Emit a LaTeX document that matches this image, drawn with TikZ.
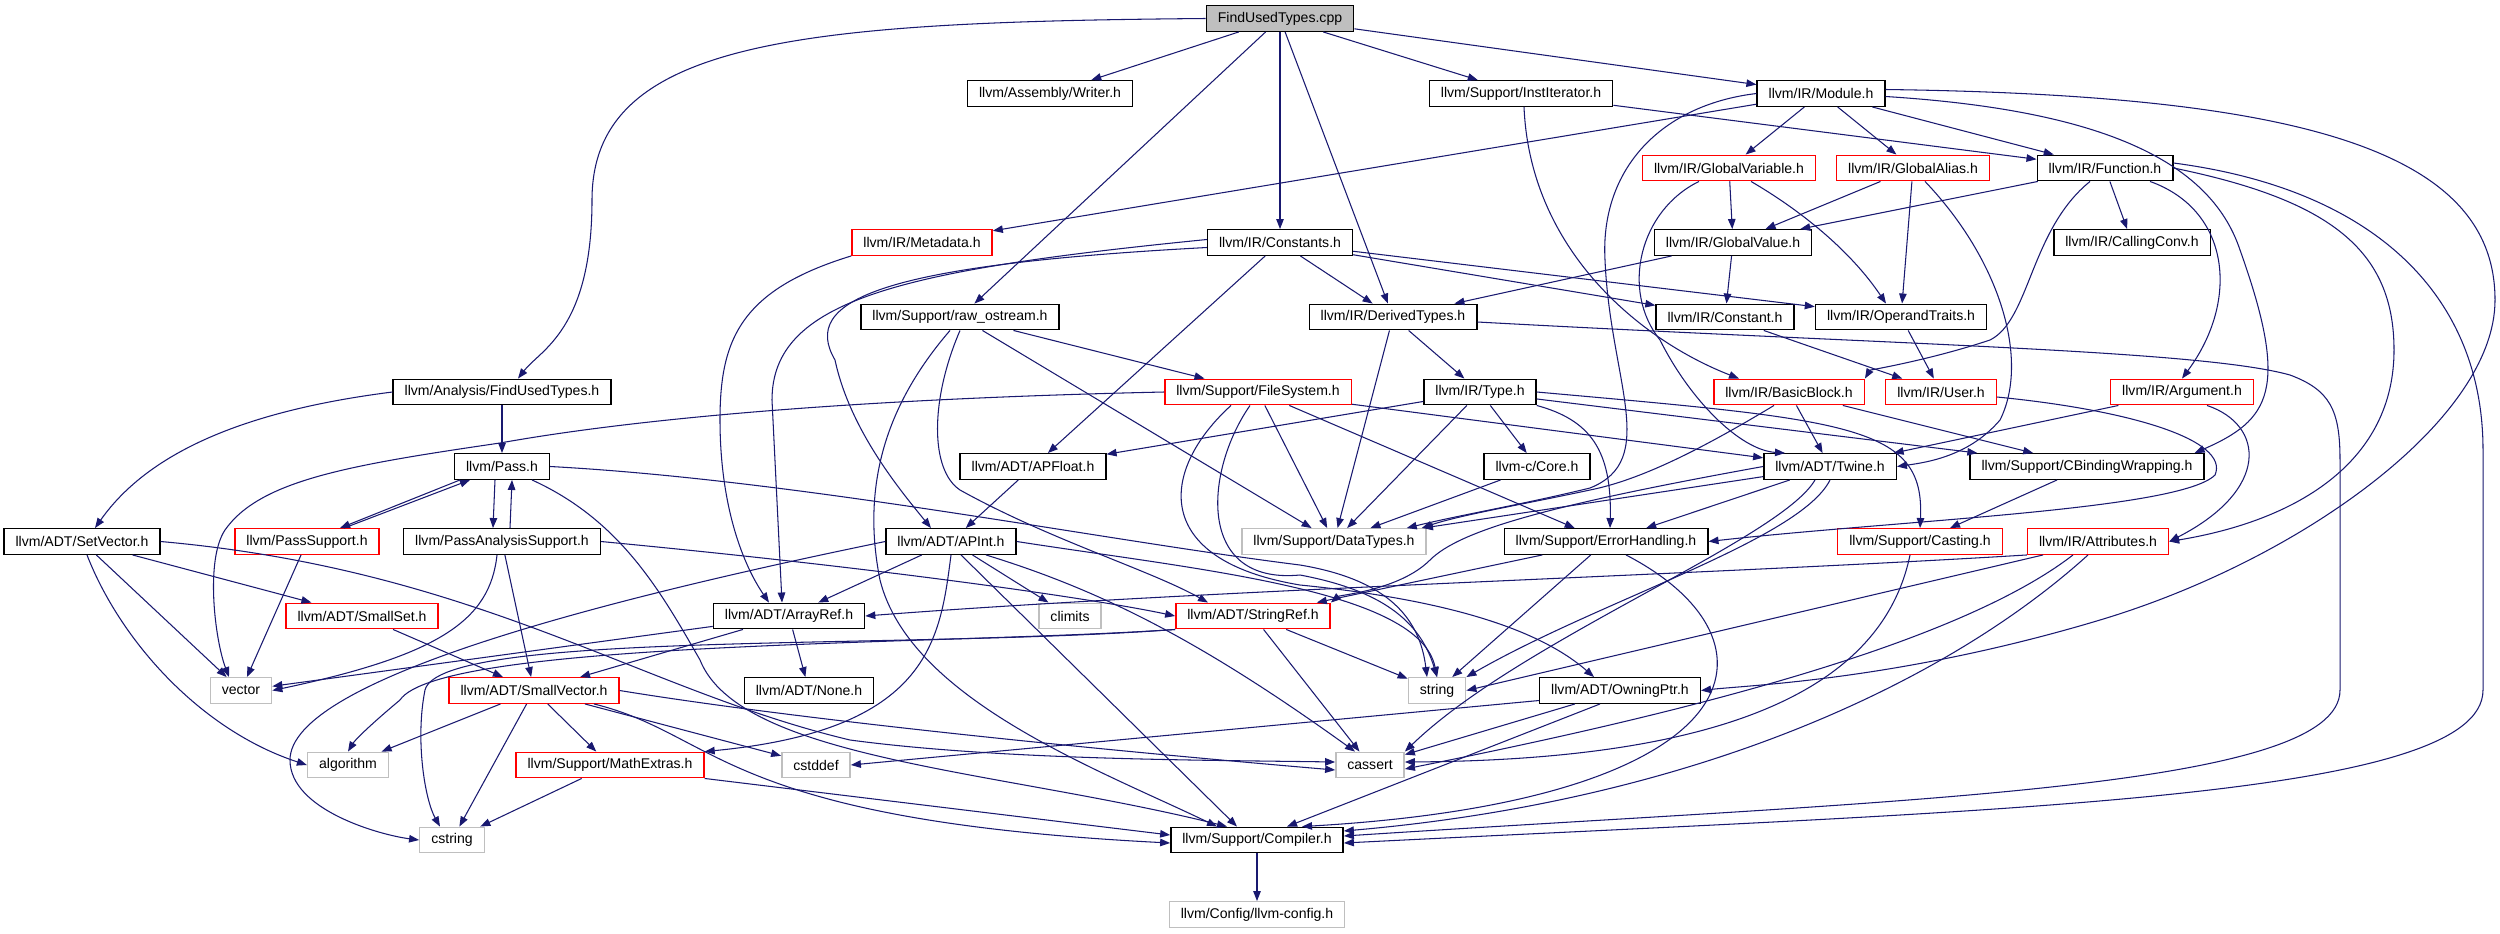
\documentclass[tikz,border=0pt]{standalone}
\usepackage{fontspec}
\setmainfont{Liberation Sans}
\usetikzlibrary{arrows.meta}
\definecolor{edgeblue}{HTML}{191970}
\definecolor{greyfill}{HTML}{BFBFBF}
\tikzset{
	hdr/.style={draw=black, fill=white, line width=0.4pt, inner xsep=0.115cm, inner ysep=0pt, minimum height=0.255cm, font=\fontsize{4}{5}\selectfont},
	redhdr/.style={hdr, draw=red},
	syshdr/.style={hdr, draw=greyfill},
	rootfile/.style={hdr, fill=greyfill},
	dep/.style={draw=edgeblue, line width=0.3pt, -{Triangle[length=0.1cm,width=0.075cm]}}
}
\begin{document}
\begin{tikzpicture}[x=0.01cm, y=-0.01cm]
	\path[fill=white] (0,0) rectangle (2500,933);
	\useasboundingbox (0,0) rectangle (2500,933);

	\node[rootfile] (root) at (1280,18.5) {FindUsedTypes.cpp};
	\node[hdr] (writer) at (1050,93.5) {llvm/Assembly/Writer.h};
	\node[hdr] (instit) at (1521,93.5) {llvm/Support/InstIterator.h};
	\node[hdr] (module) at (1821,93.5) {llvm/IR/Module.h};
	\node[redhdr] (gvar) at (1729,168) {llvm/IR/GlobalVariable.h};
	\node[redhdr] (galias) at (1913,168) {llvm/IR/GlobalAlias.h};
	\node[hdr] (func) at (2105,168) {llvm/IR/Function.h};
	\node[redhdr] (meta) at (922,242.5) {llvm/IR/Metadata.h};
	\node[hdr] (consts) at (1280,242.5) {llvm/IR/Constants.h};
	\node[hdr] (gval) at (1733,242.5) {llvm/IR/GlobalValue.h};
	\node[hdr] (callconv) at (2132,242.5) {llvm/IR/CallingConv.h};
	\node[hdr] (rawos) at (960,317) {llvm/Support/raw\_ostream.h};
	\node[hdr] (dtypes) at (1393,317) {llvm/IR/DerivedTypes.h};
	\node[hdr] (constant) at (1725,317) {llvm/IR/Constant.h};
	\node[hdr] (optraits) at (1901,317) {llvm/IR/OperandTraits.h};
	\node[hdr] (futh) at (502,392) {llvm/Analysis/FindUsedTypes.h};
	\node[redhdr] (fsys) at (1258,392) {llvm/Support/FileSystem.h};
	\node[hdr] (type) at (1480,392) {llvm/IR/Type.h};
	\node[redhdr] (bblock) at (1789,392) {llvm/IR/BasicBlock.h};
	\node[redhdr] (user) at (1941,392) {llvm/IR/User.h};
	\node[redhdr] (arg) at (2182,392) {llvm/IR/Argument.h};
	\node[hdr] (pass) at (502,466.5) {llvm/Pass.h};
	\node[hdr] (apfloat) at (1033,466.5) {llvm/ADT/APFloat.h};
	\node[hdr] (core) at (1537,466.5) {llvm-c/Core.h};
	\node[hdr] (twine) at (1830,466.5) {llvm/ADT/Twine.h};
	\node[hdr] (cbind) at (2087,466.5) {llvm/Support/CBindingWrapping.h};
	\node[hdr] (setvec) at (82,541.5) {llvm/ADT/SetVector.h};
	\node[redhdr] (passsup) at (307,541.5) {llvm/PassSupport.h};
	\node[hdr] (pas) at (502,541.5) {llvm/PassAnalysisSupport.h};
	\node[hdr] (apint) at (951,541.5) {llvm/ADT/APInt.h};
	\node[syshdr] (dtypesh) at (1334,541.5) {llvm/Support/DataTypes.h};
	\node[hdr] (errh) at (1606,541.5) {llvm/Support/ErrorHandling.h};
	\node[redhdr] (casting) at (1920,541.5) {llvm/Support/Casting.h};
	\node[redhdr] (attrs) at (2098,541.5) {llvm/IR/Attributes.h};
	\node[redhdr] (smallset) at (362,616) {llvm/ADT/SmallSet.h};
	\node[hdr] (aref) at (789,616) {llvm/ADT/ArrayRef.h};
	\node[syshdr] (climits) at (1070,616) {climits};
	\node[redhdr] (sref) at (1253,616) {llvm/ADT/StringRef.h};
	\node[syshdr] (vector) at (241,690.5) {vector};
	\node[redhdr] (svec) at (534,690.5) {llvm/ADT/SmallVector.h};
	\node[hdr] (none) at (809,690.5) {llvm/ADT/None.h};
	\node[syshdr] (string) at (1437,690.5) {string};
	\node[hdr] (owning) at (1620,690.5) {llvm/ADT/OwningPtr.h};
	\node[syshdr] (algo) at (348,765) {algorithm};
	\node[redhdr] (mathx) at (610,765) {llvm/Support/MathExtras.h};
	\node[syshdr] (cstddef) at (816,765) {cstddef};
	\node[syshdr] (cassert) at (1370,765) {cassert};
	\node[syshdr] (cstring) at (452,840) {cstring};
	\node[hdr] (compiler) at (1257,840) {llvm/Support/Compiler.h};
	\node[syshdr] (config) at (1257,914.5) {llvm/Config/llvm-config.h};

	\draw[dep] (root.west) .. controls (800,22) and (592,40) .. (592,200) .. controls (592,330) and (540,350) .. ([xshift=0.16cm]futh.north);
	\draw[dep] (root) -- (writer);
	\draw[dep] (root) -- (rawos);
	\draw[dep] (root) -- (consts);
	\draw[dep] (root) -- (dtypes);
	\draw[dep] (root) -- (instit);
	\draw[dep] (root) -- (module);

	\draw[dep] (futh.west) .. controls (250,410) and (150,450) .. ([xshift=0.13cm]setvec.north);
	\draw[dep] (futh) -- (pass);

	\draw[dep] ([xshift=0.03cm]instit.south) .. controls (1530,250) and (1640,340) .. ([xshift=-0.5cm]bblock.north);
	\draw[dep] (instit) -- (func);

	\draw[dep] (module) -- (meta);
	\draw[dep] (module.west) .. controls (1660,105) and (1600,170) .. (1605,260) .. controls (1610,380) and (1660,460) .. (1590,488) .. controls (1520,505) and (1460,515) .. ([xshift=-0.2cm]dtypesh.north east);
	\draw[dep] (module) -- (gvar);
	\draw[dep] (module) -- (galias);
	\draw[dep] (module) -- (func);
	\draw[dep] ([yshift=-0.03cm]module.east) .. controls (2100,110) and (2210,160) .. (2240,250) .. controls (2290,390) and (2270,420) .. ([xshift=-0.1cm]cbind.north east);
	\draw[dep] ([yshift=0.04cm]module.east) .. controls (2300,95) and (2495,150) .. (2495,300) .. controls (2495,420) and (2300,560) .. (2100,620) .. controls (1900,680) and (1750,685) .. (owning.east);

	\draw[dep] ([xshift=-0.3cm]gvar.south) .. controls (1640,210) and (1620,290) .. (1660,340) .. controls (1690,400) and (1740,450) .. ([xshift=-0.45cm]twine.north);
	\draw[dep] (gvar) -- (gval);
	\draw[dep] ([xshift=0.22cm]gvar.south) .. controls (1800,210) and (1850,250) .. ([xshift=-0.15cm]optraits.north);

	\draw[dep] (galias) -- (gval);
	\draw[dep] (galias) -- (optraits);
	\draw[dep] ([xshift=0.12cm]galias.south) .. controls (2000,260) and (2030,360) .. (2000,420) .. controls (1970,455) and (1930,462) .. (twine.east);

	\draw[dep] (func) -- (gval);
	\draw[dep] ([xshift=-0.15cm]func.south) .. controls (2030,230) and (2030,320) .. (1990,340) .. controls (1930,360) and (1870,370) .. (bblock.north east);
	\draw[dep] (func) -- (callconv);
	\draw[dep] ([xshift=0.45cm]func.south) .. controls (2230,210) and (2240,300) .. (arg.north);
	\draw[dep] (func.east) .. controls (2330,200) and (2394,250) .. (2394,350) .. controls (2394,460) and (2300,520) .. (attrs.east);
	\draw[dep] ([yshift=0.05cm]func.east) .. controls (2380,190) and (2483,300) .. (2483,450) -- (2483,690) .. controls (2483,800) and (2000,810) .. ([yshift=-0.03cm]compiler.east);

	\draw[dep] (meta.south west) .. controls (740,290) and (720,340) .. (720,420) .. controls (720,500) and (740,560) .. ([xshift=-0.2cm]aref.north);

	\draw[dep] ([yshift=0.03cm]consts.west) .. controls (900,270) and (772,300) .. (772,400) -- ([xshift=-0.07cm]aref.north);
	\draw[dep] ([yshift=-0.05cm]consts.west) .. controls (880,265) and (800,300) .. (835,360) .. controls (850,430) and (900,490) .. ([xshift=-0.2cm]apint.north);
	\draw[dep] (consts) -- (apfloat);
	\draw[dep] (consts) -- (dtypes);
	\draw[dep] (consts) -- (constant);
	\draw[dep] (consts) -- (optraits);

	\draw[dep] (gval) -- (dtypes);
	\draw[dep] (gval) -- (constant);

	\draw[dep] ([xshift=-0.1cm]rawos.south) .. controls (890,400) and (860,480) .. (880,580) .. controls (910,700) and (1100,770) .. ([xshift=-0.4cm]compiler.north);
	\draw[dep] (rawos.south) .. controls (930,400) and (930,470) .. (960,490) .. controls (1050,540) and (1150,570) .. ([xshift=-0.45cm]sref.north);
	\draw[dep] (rawos) -- (dtypesh);
	\draw[dep] (rawos) -- (fsys);

	\draw[dep] (dtypes) -- (type);
	\draw[dep] (dtypes) -- (dtypesh);
	\draw[dep] ([yshift=-0.05cm]dtypes.east) .. controls (1900,345) and (2200,350) .. (2290,375) .. controls (2330,390) and (2340,410) .. (2340,460) -- (2340,690) .. controls (2340,790) and (1900,800) .. ([yshift=0.04cm]compiler.east);

	\draw[dep] (constant) -- (user);
	\draw[dep] (optraits) -- (user);

	\draw[dep] (fsys.west) .. controls (800,400) and (600,425) .. (500,443) .. controls (350,465) and (260,480) .. (225,530) .. controls (205,560) and (215,640) .. ([xshift=-0.12cm]vector.north);
	\draw[dep] (fsys) -- (twine);
	\draw[dep] (fsys) -- (dtypesh);
	\draw[dep] (fsys) -- (errh);
	\draw[dep] ([xshift=-0.27cm]fsys.south) .. controls (1160,470) and (1150,560) .. (1300,585) .. controls (1450,600) and (1540,630) .. ([xshift=-0.26cm]owning.north);
	\draw[dep] ([xshift=-0.08cm]fsys.south) .. controls (1205,470) and (1195,585) .. (1300,575) .. controls (1380,590) and (1420,620) .. (string.north);

	\draw[dep] (type) -- (apfloat);
	\draw[dep] (type) -- (dtypesh);
	\draw[dep] (type) -- (core);
	\draw[dep] (type.south east) .. controls (1590,420) and (1612,450) .. ([xshift=0.04cm]errh.north);
	\draw[dep] (type.east) .. controls (1850,420) and (1925,425) .. (casting.north);
	\draw[dep] (type) -- (cbind);

	\draw[dep] ([xshift=-0.15cm]bblock.south) .. controls (1700,450) and (1640,480) .. (1590,490) .. controls (1520,505) and (1460,515) .. ([xshift=-0.05cm]dtypesh.north east);
	\draw[dep] (bblock) -- (twine);
	\draw[dep] (bblock) -- (cbind);

	\draw[dep] ([yshift=-0.05cm]user.east) .. controls (2130,410) and (2230,440) .. (2215,475) .. controls (2180,510) and (1900,520) .. (errh.east);

	\draw[dep] (arg) -- (twine);
	\draw[dep] ([xshift=0.25cm]arg.south) .. controls (2265,425) and (2270,490) .. (attrs.east);

	\draw[dep] ([xshift=-0.42cm]pass.south) -- ([xshift=0.33cm]passsup.north);
	\draw[dep] ([xshift=0.37cm]passsup.north) -- ([xshift=-0.32cm]pass.south);
	\draw[dep] ([xshift=-0.07cm]pass.south) -- ([xshift=-0.09cm]pas.north);
	\draw[dep] ([xshift=0.08cm]pas.north) -- ([xshift=0.1cm]pass.south);
	\draw[dep] (pass.east) .. controls (800,480) and (1100,540) .. (1300,565) .. controls (1390,580) and (1420,620) .. ([xshift=-0.1cm]string.north);
	\draw[dep] ([xshift=0.3cm]pass.south) .. controls (620,520) and (660,590) .. (700,660) .. controls (740,760) and (1000,770) .. ([xshift=-0.3cm]compiler.north);

	\draw[dep] (passsup) -- (vector);

	\draw[dep] (pas) -- (svec);
	\draw[dep] ([xshift=-0.05cm]pas.south) .. controls (490,620) and (440,655) .. (vector.east);
	\draw[dep] (pas.east) .. controls (900,570) and (1100,600) .. (sref.west);

	\draw[dep] (setvec) -- (smallset);
	\draw[dep] (setvec) -- (vector);
	\draw[dep] ([xshift=0.05cm]setvec.south) .. controls (120,640) and (200,730) .. (algo.west);
	\draw[dep] (setvec.east) .. controls (480,570) and (640,690) .. (850,740) .. controls (1000,760) and (1200,760) .. ([yshift=0.03cm]cassert.west);

	\draw[dep] (smallset) -- (svec);

	\draw[dep] (apint) -- (aref);
	\draw[dep] (apint) -- (climits);
	\draw[dep] (apint.south) .. controls (940,640) and (930,730) .. (mathx.north east);
	\draw[dep] ([xshift=0.1cm]apint.south) -- ([xshift=-0.2cm]compiler.north);
	\draw[dep] ([xshift=0.35cm]apint.south) .. controls (1100,590) and (1200,640) .. ([xshift=-0.15cm]cassert.north);
	\draw[dep] (apint.west) .. controls (600,600) and (290,680) .. (290,760) .. controls (290,810) and (380,835) .. (cstring.west);
	\draw[dep] (apint.east) .. controls (1200,570) and (1420,590) .. (string.north);

	\draw[dep] (apfloat) -- (apint);

	\draw[dep] (aref) -- (none);
	\draw[dep] (aref) -- (svec);
	\draw[dep] (aref) -- (vector);

	\draw[dep] (sref.south west) .. controls (950,645) and (440,640) .. (400,700) .. controls (370,725) and (355,740) .. (algo.north);
	\draw[dep] (sref.south west) .. controls (900,650) and (440,630) .. (425,690) .. controls (415,740) and (425,800) .. ([xshift=-0.12cm]cstring.north);
	\draw[dep] (sref) -- (string);
	\draw[dep] (sref) -- (cassert);

	\draw[dep] (twine) -- (dtypesh);
	\draw[dep] (twine.west) .. controls (1550,505) and (1460,530) .. (1430,560) .. controls (1400,590) and (1340,595) .. (sref.north east);
	\draw[dep] (twine) -- (errh);
	\draw[dep] (twine.south) .. controls (1800,540) and (1600,600) .. (string.north east);
	\draw[dep] ([xshift=-0.15cm]twine.south) .. controls (1780,540) and (1520,640) .. (cassert.north east);

	\draw[dep] (errh) -- (sref);
	\draw[dep] (errh) -- (string);
	\draw[dep] ([xshift=0.2cm]errh.south) .. controls (1790,640) and (1760,800) .. ([xshift=0.45cm]compiler.north);

	\draw[dep] (core) -- (dtypesh);
	\draw[dep] ([xshift=-0.1cm]casting.south) .. controls (1880,700) and (1700,760) .. ([yshift=0.03cm]cassert.east);
	\draw[dep] (cbind) -- (casting);

	\draw[dep] (attrs.south west) .. controls (1700,575) and (1200,590) .. (aref.east);
	\draw[dep] ([xshift=-0.55cm]attrs.south) -- (string.east);
	\draw[dep] ([xshift=-0.25cm]attrs.south) .. controls (1950,650) and (1650,720) .. ([yshift=-0.04cm]cassert.east);
	\draw[dep] ([xshift=-0.1cm]attrs.south) .. controls (1950,680) and (1700,800) .. ([yshift=0.09cm]compiler.east);

	\draw[dep] (owning) -- (cassert);
	\draw[dep] ([xshift=-0.2cm]owning.south) -- ([xshift=0.3cm]compiler.north);
	\draw[dep] ([yshift=-0.1cm]owning.west) -- (cstddef.east);

	\draw[dep] (svec) -- (algo);
	\draw[dep] (svec) -- (cstring);
	\draw[dep] (svec) -- (mathx);
	\draw[dep] (svec) -- (cstddef);
	\draw[dep] (svec.east) .. controls (800,720) and (1100,750) .. ([yshift=-0.05cm]cassert.west);
	\draw[dep] ([xshift=0.6cm]svec.south) .. controls (720,735) and (720,820) .. ([yshift=-0.03cm]compiler.west);

	\draw[dep] (mathx) -- (cstring);
	\draw[dep] (mathx.south east) -- ([yshift=0.05cm]compiler.west);

	\draw[dep] (compiler) -- (config);
\end{tikzpicture}
\end{document}
